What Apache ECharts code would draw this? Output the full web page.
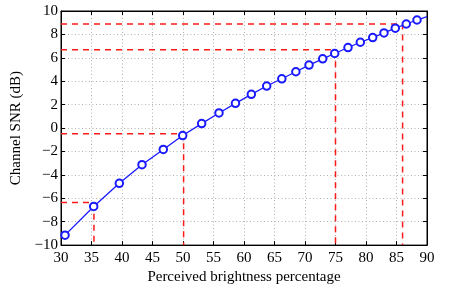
<!DOCTYPE html>
<html><head><meta charset="utf-8">
<script src="https://cdn.jsdelivr.net/npm/echarts@6/dist/echarts.min.js"></script>
<style>html,body{margin:0;padding:0;background:#fff}#c{width:471px;height:290px}</style>
</head><body><div id="c"></div>
<script>
var brightness = [30.66, 35.36, 39.56, 43.28, 46.77, 49.95, 53.06, 55.9, 58.6, 61.2, 63.72, 66.2, 68.5, 70.66, 72.9, 74.87, 77.05, 79.07, 81.1, 82.95, 84.8, 86.6, 88.36, 90];
var snr = [-9.15, -6.7, -4.72, -3.13, -1.83, -0.64, 0.38, 1.29, 2.11, 2.88, 3.59, 4.21, 4.81, 5.38, 5.91, 6.37, 6.88, 7.33, 7.73, 8.13, 8.53, 8.89, 9.23, 9.51];
var refX = [35.4, 50.1, 75.0, 86.0];
var refY = [-6.37, -0.49, 6.68, 8.89];
var xTicks = [30,35,40,45,50,55,60,65,70,75,80,85,90];
var yTicks = [-10,-8,-6,-4,-2,0,2,4,6,8,10];

var font = 'Liberation Serif';
var lineData = brightness.map(function(x,i){
  var it = {value:[x, snr[i]]};
  if (i === brightness.length-1) it.symbol = 'none';
  return it;
});
var series = [];
refX.forEach(function(x,i){
  series.push({type:'line', data:[[30,refY[i]],[x,refY[i]],[x,-10]], symbol:'none', silent:true,
    lineStyle:{color:'#ff1a1a', width:1.5, type:[6,5]}, z:2, animation:false});
});
series.push({type:'line', data:lineData, symbol:'emptyCircle', symbolSize:7.5, showAllSymbol:true,
  lineStyle:{color:'#1a1aff', width:1.3}, itemStyle:{color:'#1a1aff', borderWidth:1.5}, z:5, animation:false, clip:true});

var chart = echarts.init(document.getElementById('c'), null, {renderer:'canvas'});
var grid = {left:61, right:44, top:11, bottom:44, show:true, borderColor:'#000', borderWidth:1, backgroundColor:'#fff'};
var splitLine = {show:true, lineStyle:{color:'#b0b0b0', type:[1,2.5], width:1}};
chart.setOption({
  animation:false,
  grid: grid,
  xAxis: [{type:'value', min:xTicks[0], max:xTicks[xTicks.length-1], interval:5, position:'bottom',
    name:'Perceived brightness percentage', nameLocation:'middle', nameGap:23,
    nameTextStyle:{fontFamily:font, fontSize:15, color:'#000'},
    axisLine:{show:true, onZero:false, lineStyle:{color:'#000', width:1}},
    axisTick:{show:true, inside:true, length:4, lineStyle:{color:'#000'}},
    axisLabel:{fontFamily:font, fontSize:15, color:'#000', margin:5},
    splitLine: splitLine},
   {type:'value', min:xTicks[0], max:xTicks[xTicks.length-1], interval:5, position:'top',
    axisLine:{show:true, onZero:false, lineStyle:{color:'#000'}}, axisTick:{show:true, inside:true, length:4, lineStyle:{color:'#000'}},
    axisLabel:{show:false}, splitLine:{show:false}}],
  yAxis: [{type:'value', min:yTicks[0], max:yTicks[yTicks.length-1], interval:2, position:'left',
    name:'Channel SNR (dB)', nameLocation:'middle', nameGap:33,
    nameTextStyle:{fontFamily:font, fontSize:15, color:'#000'},
    axisLine:{show:true, onZero:false, lineStyle:{color:'#000', width:1}},
    axisTick:{show:true, inside:true, length:4, lineStyle:{color:'#000'}},
    axisLabel:{fontFamily:font, fontSize:15, color:'#000', margin:3,
      formatter:function(v){return v<0 ? '\u2212'+Math.abs(v) : String(v);}},
    splitLine: splitLine},
   {type:'value', min:yTicks[0], max:yTicks[yTicks.length-1], interval:2, position:'right',
    axisLine:{show:true, onZero:false, lineStyle:{color:'#000'}}, axisTick:{show:true, inside:true, length:4, lineStyle:{color:'#000'}},
    axisLabel:{show:false}, splitLine:{show:false}}],
  series: series
});
</script></body></html>
